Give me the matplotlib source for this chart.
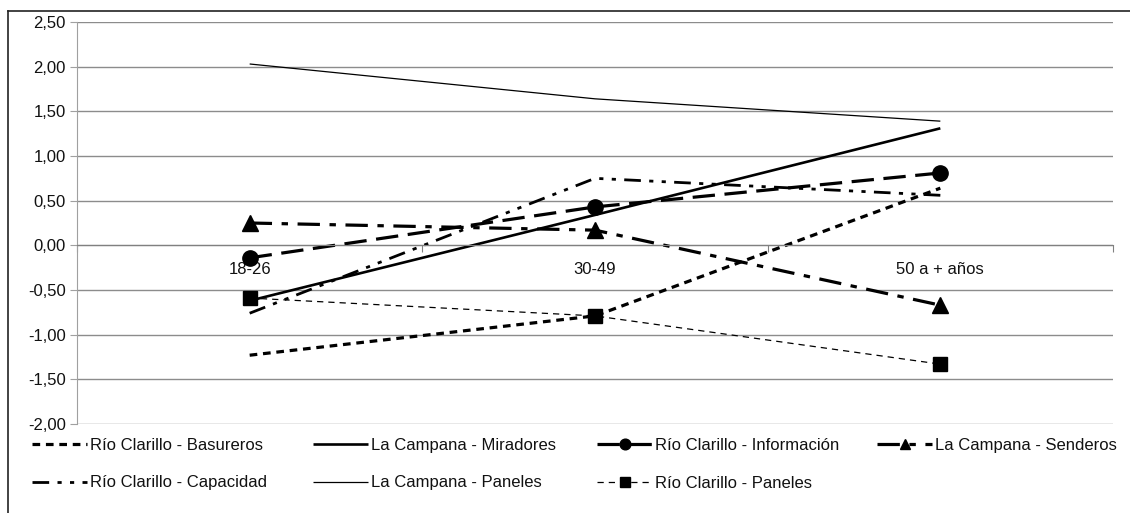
import matplotlib.pyplot as plt
from matplotlib.lines import Line2D
import numpy as np

plt.rcParams['font.family'] = ['Liberation Sans', 'DejaVu Sans']

categories = ['18-26', '30-49', '50 a + años']

rc_basureros = [-1.23, -0.79, 0.64]
lc_miradores = [-0.62, 0.34, 1.31]
rc_informacion = [-0.14, 0.43, 0.81]
lc_senderos = [0.25, 0.17, -0.67]
rc_capacidad = [-0.76, 0.75, 0.56]
lc_paneles = [2.03, 1.64, 1.39]
rc_paneles = [-0.59, -0.79, -1.33]

W, H = 1130, 513
fig = plt.figure(figsize=(W / 100, H / 100), dpi=100)
ax = fig.add_axes([77 / W, 1 - 424 / H, (1113 - 77) / W, (424 - 22) / H])

x = np.arange(len(categories))
k = 'black'
fs = 12

# estilos (dash en unidades de grosor de linea)
series = [
    ('Río Clarillo - Basureros', rc_basureros, dict(lw=2.3, dashes=(2.4, 1.8))),
    ('La Campana - Miradores', lc_miradores, dict(lw=1.9, ls='-')),
    ('Río Clarillo - Información', rc_informacion,
     dict(lw=2.3, dashes=(7, 3), marker='o', ms=11)),
    ('La Campana - Senderos', lc_senderos,
     dict(lw=2.3, dashes=(7, 3, 2, 3), marker='^', ms=11)),
    ('Río Clarillo - Capacidad', rc_capacidad,
     dict(lw=2.0, dashes=(6, 3, 1.5, 3, 1.5, 3))),
    ('La Campana - Paneles', lc_paneles, dict(lw=0.9, ls='-')),
    ('Río Clarillo - Paneles', rc_paneles,
     dict(lw=0.9, dashes=(5, 4), marker='s', ms=9.5)),
]

handles = {}
for name, vals, st in series:
    h, = ax.plot(x, vals, color=k, label=name, solid_capstyle='butt',
                 dash_capstyle='butt', **st)
    handles[name] = h

ax.set_xlim(-0.5, 2.5)
ax.set_ylim(-2.0, 2.5)
yt = np.arange(-2.0, 2.51, 0.5)
ax.set_yticks(yt)
ax.set_yticklabels([f'{v:.2f}'.replace('.', ',') for v in yt])
ax.grid(axis='y', color='#8c8c8c', lw=1)
ax.set_axisbelow(True)

# eje x en y = 0
ax.spines['bottom'].set_position(('data', 0))
ax.spines['bottom'].set_color('#808080')
ax.spines['left'].set_color('#a0a0a0')
ax.spines['top'].set_visible(False)
ax.spines['right'].set_visible(False)
ax.set_xticks([-0.5, 0.5, 1.5, 2.5])
ax.set_xticklabels([])
ax.set_xticks(x, minor=True)
ax.set_xticklabels(categories, minor=True)
ax.tick_params(axis='x', which='major', length=5, color='#808080', direction='out')
ax.tick_params(axis='x', which='minor', length=0, pad=12, labelsize=fs, labelcolor='#111111')
ax.tick_params(axis='y', length=5, color='#a0a0a0', labelsize=fs, labelcolor='#111111', pad=3)

# leyenda: 4 columnas, cada una como leyenda propia
cols = [
    ['Río Clarillo - Basureros', 'Río Clarillo - Capacidad'],
    ['La Campana - Miradores', 'La Campana - Paneles'],
    ['Río Clarillo - Información', 'Río Clarillo - Paneles'],
    ['La Campana - Senderos'],
]
col_x = [32, 313, 597, 877]
for names, cx in zip(cols, col_x):
    leg = fig.legend([handles[n] for n in names], names, loc='upper left',
                     bbox_to_anchor=(cx / W, 1 - 438 / H), frameon=False,
                     fontsize=fs, handlelength=3.3, handletextpad=0.2,
                     labelspacing=1.35, markerscale=0.7, borderpad=0,
                     borderaxespad=0)
    for t in leg.get_texts():
        t.set_color('#111111')

# borde del area del grafico
fig.add_artist(Line2D([8 / W, 8 / W], [1 - 11 / H, 0], color='#222222', lw=1.2))
fig.add_artist(Line2D([8 / W, 1], [1 - 11 / H, 1 - 11 / H], color='#222222', lw=1.2))

fig.savefig('out.png', dpi=100)
